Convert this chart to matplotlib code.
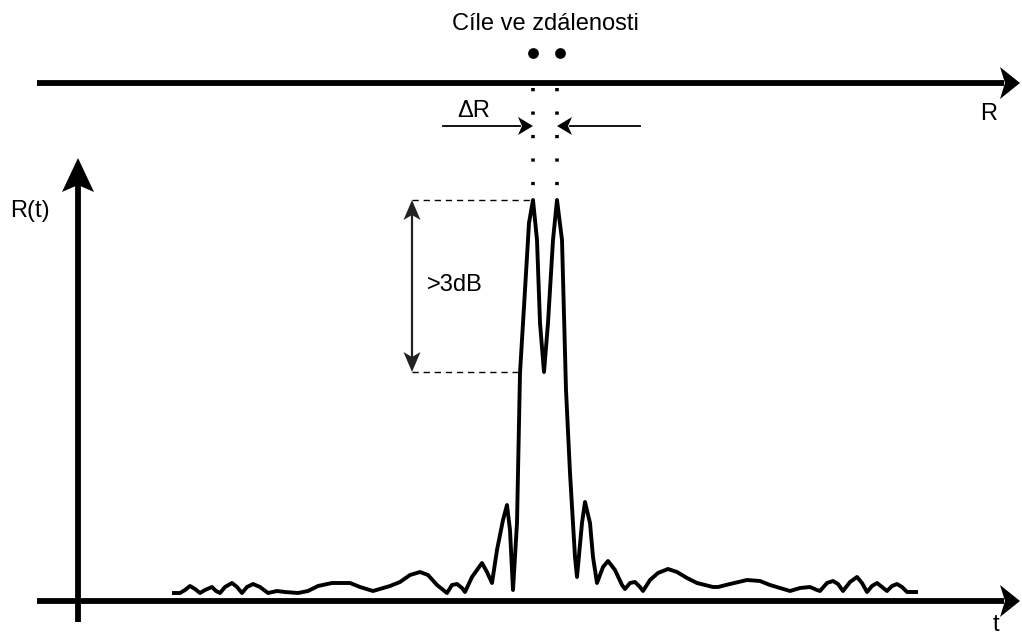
"""Range resolution sketch: two close targets and their compressed echo."""

import matplotlib

matplotlib.use("Agg")
import matplotlib.pyplot as plt
import numpy as np
from matplotlib.patches import Polygon

# diagram frame is 1022 x 638 px, y grows downwards
W, H = 1022, 638
T_AXIS_Y = 601
R_AXIS_Y = 83
V_AXIS_X = 78

# echo curve: time position and level above the t axis
echo_t = [172, 180, 185, 190, 195, 200, 205, 212, 216, 220, 225, 232, 237, 242,
          247, 253, 260, 268, 277, 285, 298, 308, 318, 332, 342, 350, 360, 373,
          390, 400, 410, 420, 428, 437, 447, 452, 457, 462, 465, 472, 482, 487,
          492, 497, 503, 507, 510, 513, 517, 520, 525, 529, 533, 537, 540, 544,
          548, 553, 557, 562, 566, 570, 575, 577, 582, 585, 590, 593, 597, 603,
          608, 615, 622, 625, 630, 635, 640, 643, 650, 658, 668, 677, 687, 697,
          713, 718, 730, 747, 760, 770, 780, 790, 800, 810, 817, 820, 827, 833,
          838, 843, 850, 857, 862, 867, 872, 877, 882, 887, 892, 897, 902, 907,
          918]
echo_level = [8, 8, 11, 15, 12, 8, 11, 14, 10, 8, 14, 18, 14, 8,
              14, 17, 14, 8, 10, 9, 8, 10, 15, 18, 18, 18, 14, 10,
              15, 19, 26, 29, 26, 16, 8, 16, 17, 13, 9, 24, 38, 29,
              18, 51, 81, 96, 71, 11, 78, 228, 311, 378, 401, 361, 278, 229,
              278, 361, 401, 361, 211, 128, 44, 24, 78, 99, 78, 44, 18, 34,
              40, 31, 16, 12, 18, 19, 14, 10, 21, 28, 32, 29, 23, 18,
              14, 14, 17, 21, 20, 16, 13, 10, 13, 14, 11, 10, 18, 20,
              17, 10, 19, 24, 18, 9, 15, 18, 14, 10, 15, 17, 14, 9,
              9]

target_pos = [533, 560]
delta_r_edges = [533, 557]
peak_level = 401
dip_level = 229

labels = {
    "title": "Cíle ve zdálenosti",
    "range": "R",
    "time": "t",
    "echo": "R(t)",
    "delta": "ΔR",
    "db": ">3dB",
}

FONT = ["Liberation Sans", "DejaVu Sans"]
FS = 17


def arrow_head(ax, tip, direction, length, half_width, notch, color="black"):
    """Filled arrow head with a notched back, tip at `tip`."""
    d = np.asarray(direction, float)
    d /= np.hypot(*d)
    n = np.array([-d[1], d[0]])
    tip = np.asarray(tip, float)
    back = tip - d * length
    pts = [tip, back + n * half_width, tip - d * (length - notch), back - n * half_width]
    ax.add_patch(Polygon(pts, closed=True, color=color, lw=0, zorder=5))


fig = plt.figure(figsize=(W / 100, H / 100), dpi=100)
ax = fig.add_axes([0, 0, 1, 1])
ax.set_xlim(0, W)
ax.set_ylim(H, 0)
ax.axis("off")

# main axes
ax.plot([37, 1004], [T_AXIS_Y, T_AXIS_Y], color="black", lw=4.2, solid_capstyle="butt")
arrow_head(ax, (1020, T_AXIS_Y), (1, 0), 20, 16, 5)
ax.plot([37, 1004], [R_AXIS_Y, R_AXIS_Y], color="black", lw=4.2, solid_capstyle="butt")
arrow_head(ax, (1020, R_AXIS_Y), (1, 0), 20, 16, 5)
ax.plot([V_AXIS_X, V_AXIS_X], [622, 176], color="black", lw=4.2, solid_capstyle="butt")
arrow_head(ax, (V_AXIS_X, 158), (0, -1), 34, 16, 7)

# echo
ys = T_AXIS_Y - np.array(echo_level)
ax.plot(echo_t, ys, color="black", lw=2.8, solid_joinstyle="round",
        solid_capstyle="butt")

# targets and their dotted projections
ax.scatter(target_pos, [53, 53], s=60, color="black", zorder=6, linewidths=0)
for x in delta_r_edges:
    ax.plot([x, x], [88, 196], color="black", lw=2.6, dashes=(0.9, 5.6),
            dash_capstyle="butt")

# delta R
ax.plot([443, 520], [126, 126], color="black", lw=1.3)
arrow_head(ax, (delta_r_edges[0], 126), (1, 0), 15, 9, 4)
ax.plot([570, 640], [126, 126], color="black", lw=1.3)
arrow_head(ax, (delta_r_edges[1], 126), (-1, 0), 15, 9, 4)

# >3dB span between peak and dip
y_peak = T_AXIS_Y - peak_level
y_dip = T_AXIS_Y - dip_level
ax.plot([412, 531], [y_peak, y_peak], color="black", lw=1.0, dashes=(4.5, 3.5))
ax.plot([412, 518], [y_dip, y_dip], color="black", lw=1.0, dashes=(4.5, 3.5))
ax.plot([412, 412], [y_peak + 15, y_dip - 15], color="#222222", lw=1.6)
arrow_head(ax, (412, y_peak), (0, -1), 20, 8.5, 5, color="#222222")
arrow_head(ax, (412, y_dip), (0, 1), 20, 8.5, 5, color="#222222")

# text
txt = dict(family=FONT, fontsize=FS, color="black", va="baseline")
ax.text(545, 30, labels["title"], ha="center", **txt)
ax.text(457, 117, labels["delta"], ha="left", **txt)
ax.text(427, 291, labels["db"], ha="left", **txt)
ax.text(10, 217, labels["echo"], ha="left", **txt)
ax.text(980, 120, labels["range"], ha="left", **txt)
ax.text(993, 631, labels["time"], ha="left", **txt)

fig.savefig("out.png", dpi=100)
